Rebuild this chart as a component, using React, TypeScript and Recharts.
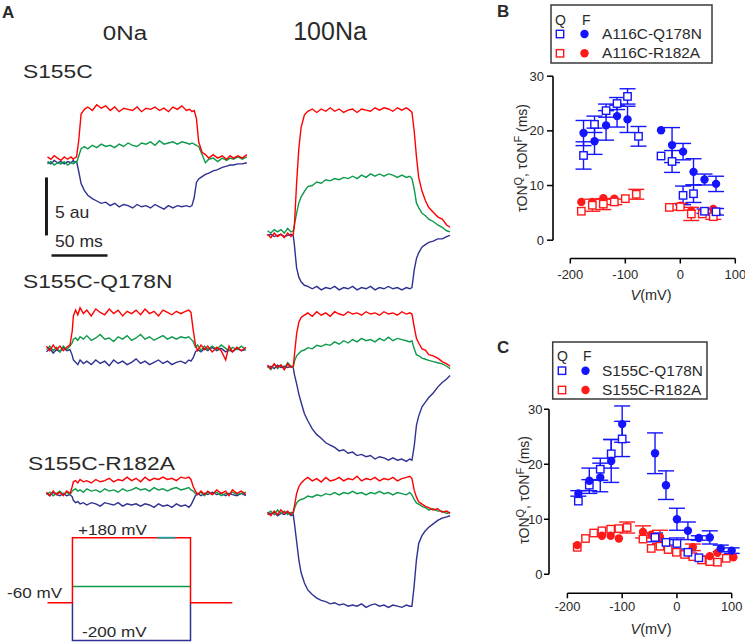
import React from 'react';
import { LineChart, Line, XAxis, YAxis, ScatterChart, Scatter, ErrorBar, ReferenceLine } from 'recharts';

const FONT = '"Liberation Sans", Arial, Helvetica, sans-serif';

// ---------- Panel A: fluorescence traces (time in ms, signal in au relative to baseline) ----------
const TIME_MS = [0, 3, 6, 9, 12, 15, 18, 21, 23, 24, 26, 28, 30, 33, 36, 40, 44, 48, 52, 56, 60, 64, 68, 72, 76, 80, 84, 88, 92, 96, 100, 104, 108, 112, 116, 120, 124, 127, 129, 131, 133, 135, 138, 141, 144, 148, 152, 156, 160, 163, 166, 170, 174, 178];

const S155C_0NA_RED = [0.3, 0.1, 0.4, 0.2, 0.0, 0.3, 0.1, 0.3, 0.1, 0.2, 0.3, 1.8, 4.0, 4.4, 4.6, 4.3, 4.8, 4.5, 4.7, 4.3, 4.6, 4.2, 4.5, 4.4, 4.3, 4.6, 4.2, 4.5, 4.4, 4.6, 4.3, 4.5, 4.2, 4.6, 4.4, 4.7, 4.3, 4.4, 4.2, 4.3, 3.6, 1.6, 0.7, 0.5, 0.2, 0.5, 0.2, 0.4, 0.1, 0.4, 0.2, 0.4, 0.2, 0.5];
const S155C_0NA_GREEN = [-0.3, -0.1, -0.4, -0.2, -0.3, -0.1, -0.4, -0.2, -0.3, -0.1, -0.2, 0.4, 1.0, 1.2, 1.0, 1.3, 1.1, 1.4, 1.2, 1.3, 1.1, 1.4, 1.2, 1.5, 1.3, 1.2, 1.5, 1.4, 1.6, 1.3, 1.7, 1.4, 1.5, 1.6, 1.4, 1.6, 1.5, 1.4, 1.5, 1.4, 1.3, 1.2, 0.5, -0.2, 0.1, 0.2, -0.1, 0.2, 0.0, 0.2, 0.1, 0.3, 0.1, 0.3];
const S155C_0NA_BLUE = [-0.1, -0.3, 0.0, -0.2, -0.1, -0.3, -0.1, -0.2, 0.0, -0.2, -0.1, -1.0, -2.0, -2.6, -3.0, -3.3, -3.5, -3.7, -3.6, -3.9, -3.7, -4.0, -3.8, -3.9, -4.1, -3.8, -4.0, -3.9, -4.1, -3.8, -4.0, -4.2, -3.9, -4.1, -3.9, -4.0, -3.9, -4.0, -3.9, -3.2, -1.9, -1.6, -1.4, -1.2, -1.1, -0.9, -0.8, -0.6, -0.5, -0.4, -0.4, -0.3, -0.3, -0.2];

const S155C_100NA_RED = [0.1, -0.2, 0.2, -0.1, 0.1, -0.2, 0.2, -0.1, 0.1, 0.8, 4.5, 7.5, 9.3, 10.4, 10.7, 10.9, 10.6, 10.9, 10.7, 11.0, 10.7, 10.9, 10.6, 10.8, 10.9, 10.6, 10.9, 10.8, 10.7, 11.0, 10.8, 11.0, 10.9, 10.7, 11.0, 10.8, 11.0, 10.8, 10.6, 9.0, 6.8, 5.0, 3.8, 3.0, 2.4, 2.0, 1.6, 1.4, 0.9, 0.7];
const S155C_100NA_GREEN = [0.4, 0.2, 0.5, 0.3, 0.5, 0.2, 0.6, 0.3, 0.4, 0.9, 1.9, 2.8, 3.3, 3.8, 4.2, 4.3, 4.6, 4.5, 4.8, 4.7, 4.9, 4.8, 5.0, 4.9, 5.1, 4.9, 5.2, 5.0, 5.3, 5.1, 5.3, 5.1, 5.3, 5.2, 5.0, 5.2, 5.0, 5.1, 4.9, 4.0, 2.8, 2.4, 1.9, 1.7, 1.4, 1.2, 0.9, 0.7, 0.4, 0.3];
const S155C_100NA_BLUE = [0.0, 0.1, -0.1, 0.0, 0.1, -0.1, 0.0, 0.1, 0.0, -0.8, -2.8, -3.6, -4.0, -4.3, -4.4, -4.6, -4.4, -4.7, -4.5, -4.6, -4.4, -4.7, -4.5, -4.6, -4.4, -4.7, -4.5, -4.6, -4.4, -4.7, -4.5, -4.6, -4.4, -4.6, -4.5, -4.7, -4.5, -4.6, -4.5, -3.0, -2.0, -1.5, -1.0, -0.8, -0.6, -0.5, -0.3, -0.3, -0.1, 0.0];

const Q178N_0NA_RED = [0.2, -0.2, 0.3, -0.1, 0.2, -0.2, 0.1, 0.3, 1.5, 2.8, 3.3, 2.9, 3.5, 3.0, 3.3, 2.8, 3.4, 3.1, 2.9, 3.4, 3.0, 3.3, 2.8, 3.2, 3.0, 3.3, 2.9, 3.4, 3.0, 3.2, 2.8, 3.3, 3.1, 2.9, 3.2, 3.0, 3.2, 3.3, 3.1, 1.6, 0.3, -0.2, 0.3, -0.1, 0.2, -0.3, 0.1, -0.2, -1.0, 0.2, -0.3, 0.1, -0.2, 0.1];
const Q178N_0NA_GREEN = [-0.1, 0.2, -0.2, 0.1, -0.3, 0.2, -0.1, 0.2, 0.5, 0.8, 0.9, 0.7, 1.0, 0.8, 1.1, 0.7, 0.9, 1.2, 0.8, 0.9, 0.6, 1.0, 0.8, 1.1, 0.7, 0.9, 1.2, 0.8, 1.0, 0.7, 0.9, 1.1, 0.8, 1.0, 0.8, 1.0, 0.9, 1.0, 0.8, 0.6, 0.1, 0.3, -0.2, 0.2, -0.1, 0.2, -0.1, 0.3, 0.0, -0.2, 0.1, -0.1, 0.2, -0.1];
const Q178N_0NA_BLUE = [-0.3, 0.0, -0.4, -0.1, -0.3, 0.1, -0.2, -0.1, -0.6, -1.0, -1.2, -1.4, -1.0, -1.3, -1.1, -1.4, -1.0, -1.3, -1.1, -1.5, -1.0, -1.3, -1.1, -1.4, -1.2, -0.9, -1.3, -1.1, -1.4, -1.2, -1.0, -1.3, -1.1, -1.4, -1.2, -1.1, -1.3, -1.0, -1.1, -0.8, -0.3, -0.1, -0.3, 0.0, -0.2, 0.1, -0.2, 0.0, -0.3, -0.1, -0.3, 0.0, -0.2, -0.1];

const Q178N_100NA_RED = [0.2, -0.1, 0.3, 0.0, 0.2, -0.2, 0.3, 0.0, 0.1, 1.0, 2.9, 3.9, 4.3, 4.5, 4.7, 4.4, 4.8, 4.5, 4.7, 4.4, 4.8, 4.6, 4.5, 4.8, 4.6, 4.7, 4.5, 4.8, 4.6, 4.7, 4.5, 4.8, 4.6, 4.7, 4.5, 4.8, 4.6, 4.7, 4.6, 3.5, 2.5, 2.1, 1.6, 1.5, 1.1, 1.0, 0.8, 0.5, 0.3, 0.1];
const Q178N_100NA_GREEN = [0.1, -0.2, 0.3, -0.1, 0.2, -0.1, 0.4, 0.1, 0.0, 0.5, 1.0, 1.2, 1.4, 1.5, 1.7, 1.6, 1.9, 1.8, 2.0, 1.9, 2.2, 2.0, 2.3, 2.1, 2.4, 2.2, 2.5, 2.3, 2.4, 2.2, 2.5, 2.3, 2.6, 2.3, 2.5, 2.4, 2.3, 2.2, 2.3, 1.6, 1.1, 1.0, 0.8, 0.7, 0.6, 0.5, 0.4, 0.3, 0.1, -0.1];
const Q178N_100NA_BLUE = [0.0, 0.1, -0.1, 0.2, 0.0, 0.1, 0.0, 0.1, 0.0, -0.6, -1.4, -2.3, -3.0, -4.0, -4.6, -5.3, -5.8, -6.1, -6.5, -6.7, -6.9, -7.2, -7.1, -7.4, -7.3, -7.6, -7.5, -7.7, -7.6, -7.9, -7.7, -7.8, -8.0, -7.8, -8.0, -7.9, -8.1, -7.9, -8.0, -6.8, -5.0, -4.2, -3.4, -3.0, -2.6, -2.2, -1.7, -1.3, -1.0, -0.7];

const R182A_0NA_RED = [0.1, -0.2, 0.2, -0.1, 0.1, -0.2, 0.2, 0.0, 0.6, 1.0, 1.1, 0.9, 1.2, 1.0, 1.1, 0.9, 1.2, 1.0, 1.1, 1.3, 1.0, 1.2, 1.1, 1.4, 1.1, 1.3, 1.0, 1.4, 1.1, 1.3, 1.2, 1.4, 1.2, 1.3, 1.1, 1.4, 1.3, 1.4, 1.2, 0.6, 0.2, -0.1, 0.2, -0.1, 0.2, -0.1, 0.3, 0.0, 0.2, -0.2, 0.3, 0.0, 0.2, -0.1];
const R182A_0NA_GREEN = [-0.1, 0.1, -0.2, 0.0, 0.2, -0.1, 0.1, -0.1, 0.2, 0.3, 0.4, 0.2, 0.3, 0.1, 0.4, 0.2, 0.3, 0.1, 0.4, 0.2, 0.3, 0.1, 0.4, 0.2, 0.3, 0.5, 0.3, 0.4, 0.2, 0.5, 0.3, 0.4, 0.2, 0.4, 0.5, 0.3, 0.4, 0.5, 0.3, 0.2, 0.0, -0.1, 0.1, -0.2, 0.1, -0.1, 0.1, -0.2, 0.0, -0.1, 0.1, -0.1, 0.0, 0.1];
const R182A_0NA_BLUE = [0.0, -0.2, 0.1, -0.1, -0.2, 0.0, -0.2, -0.1, -0.3, -0.6, -0.8, -0.7, -0.9, -0.8, -1.0, -0.8, -0.9, -1.1, -0.8, -0.9, -1.0, -0.8, -1.1, -0.9, -1.0, -0.9, -1.1, -0.9, -1.0, -1.2, -0.9, -1.1, -1.0, -1.2, -0.9, -1.1, -1.0, -1.2, -1.0, -0.6, -0.2, 0.0, -0.2, 0.0, -0.1, 0.1, -0.1, 0.0, -0.2, 0.0, -0.1, -0.2, 0.0, -0.2];

const R182A_100NA_RED = [0.1, -0.2, 0.2, -0.1, 0.3, 0.0, 0.2, -0.1, 0.1, 0.6, 1.7, 2.3, 2.6, 2.9, 3.1, 2.8, 3.0, 2.7, 3.1, 2.8, 2.9, 3.1, 2.8, 3.0, 2.9, 3.2, 2.8, 3.0, 2.9, 3.1, 2.8, 3.0, 2.9, 3.1, 2.8, 3.0, 3.1, 3.2, 3.0, 2.0, 1.4, 1.0, 0.8, 0.6, 0.5, 0.3, 0.4, 0.1, 0.2, 0.0];
const R182A_100NA_GREEN = [0.0, 0.2, -0.1, 0.3, 0.0, 0.2, -0.1, 0.1, 0.0, 0.4, 0.9, 1.1, 1.2, 1.3, 1.5, 1.4, 1.6, 1.5, 1.7, 1.6, 1.8, 1.6, 1.8, 1.7, 1.9, 1.7, 1.8, 1.6, 1.8, 1.7, 1.9, 1.7, 1.8, 1.6, 1.8, 1.7, 1.6, 1.8, 1.6, 1.2, 0.9, 0.8, 0.6, 0.5, 0.3, 0.4, 0.2, 0.2, 0.0, 0.1];
const R182A_100NA_BLUE = [-0.1, 0.0, 0.1, -0.2, 0.0, -0.1, 0.1, -0.2, -0.1, -0.8, -2.4, -4.0, -5.1, -6.0, -6.6, -7.0, -7.3, -7.5, -7.6, -7.8, -7.7, -7.9, -7.8, -8.0, -7.9, -8.0, -7.8, -8.1, -7.9, -7.8, -8.0, -7.9, -8.1, -7.9, -8.0, -8.1, -7.9, -8.0, -8.0, -6.2, -4.0, -2.6, -1.9, -1.5, -1.2, -0.9, -0.6, -0.4, -0.3, -0.2];

// Voltage protocol (ms, mV)
const PROTO_RED_T = [0, 22.3, 22.3, 127.7, 127.7, 165];
const PROTO_RED_MV = [-60, -60, 180, 180, -60, -60];
const PROTO_GREEN_T = [22.3, 127.7];
const PROTO_GREEN_MV = [0, 0];
const PROTO_BLUE_T = [22.3, 22.3, 127.7, 127.7];
const PROTO_BLUE_MV = [-60, -200, -200, -60];
const PROTO_CYAN_T = [98, 114];
const PROTO_CYAN_MV = [180, 180];

// ---------- Panel B: A116C mutants ----------
const B_Q178N_Q_MV = [-176, -156, -135, -115, -96, -76, -35, -15, 5, 24, 44, 65];
const B_Q178N_Q_TAU = [15.5, 21.2, 23.7, 25.0, 26.3, 19.0, 15.4, 14.4, 8.2, 8.5, 5.3, 5.2];
const B_Q178N_Q_ERR = [2.5, 1.5, 1.2, 1.1, 1.4, 1.8, 0, 2.0, 1.7, 1.6, 0.4, 0.6];
const B_Q178N_F_MV = [-176, -156, -135, -115, -96, -35, -15, 5, 24, 44, 65];
const B_Q178N_F_TAU = [19.6, 18.1, 21.0, 22.7, 22.1, 20.1, 17.4, 16.2, 12.5, 11.1, 10.3];
const B_Q178N_F_ERR = [2.3, 2.4, 2.7, 2.0, 2.4, 0, 3.2, 1.5, 2.4, 1.0, 1.4];
const B_R182A_Q_MV = [-180, -160, -140, -120, -100, -80, -20, 0, 20, 40, 60];
const B_R182A_Q_TAU = [5.3, 6.4, 6.6, 7.0, 7.6, 8.4, 6.0, 6.1, 4.8, 4.8, 4.3];
const B_R182A_Q_ERR = [0, 1.1, 1.0, 0.5, 0, 0.9, 0, 0.6, 1.2, 0, 0.5];
const B_R182A_F_MV = [-180, -160, -140, -120, 0, 20, 60];
const B_R182A_F_TAU = [7.0, 7.0, 7.7, 7.6, 6.3, 5.4, 5.7];
const B_R182A_F_ERR = [0, 0, 0, 0, 0, 0, 0];

// ---------- Panel C: S155C mutants ----------
const C_Q178N_Q_MV = [-180, -160, -140, -120, -100, -40, -20, 0, 20, 40];
const C_Q178N_Q_TAU = [13.3, 16.2, 19.1, 21.9, 24.6, 6.7, 5.8, 5.6, 4.0, 3.0];
const C_Q178N_Q_ERR = [0, 1.0, 2.0, 2.6, 3.2, 0.8, 0.5, 1.0, 0.3, 0.3];
const C_Q178N_F_MV = [-180, -160, -140, -120, -100, -40, -20, 0, 20, 40, 60, 80, 100];
const C_Q178N_F_TAU = [14.7, 17.0, 17.6, 20.6, 27.3, 22.0, 16.2, 10.0, 7.9, 6.6, 6.7, 4.7, 4.3];
const C_Q178N_F_ERR = [0.5, 2.3, 2.6, 3.9, 3.3, 3.7, 2.6, 2.0, 1.6, 0.4, 1.2, 0.6, 0.5];
const C_R182A_Q_MV = [-182, -167, -152, -137, -121, -106, -91, -62, -47, -31, -16, -1, 14, 29, 45, 60, 74, 90];
const C_R182A_Q_TAU = [4.9, 6.5, 7.5, 7.9, 8.2, 8.3, 8.5, 6.4, 4.7, 5.1, 4.5, 4.0, 3.6, 3.2, 2.6, 2.3, 2.2, 2.9];
const C_R182A_Q_ERR = [0, 0, 0, 0, 0, 0, 1.0, 0, 0, 0, 0, 0, 0, 0, 0, 0, 0, 0];
const C_R182A_F_MV = [-182, -137, -121, -106, -62, -47, -31, 29, 60, 74, 103];
const C_R182A_F_TAU = [5.3, 7.0, 7.0, 6.5, 7.7, 7.2, 6.8, 4.9, 3.3, 3.9, 3.1];
const C_R182A_F_ERR = [0, 0, 0, 0, 1.1, 0, 1.2, 0.6, 0, 0, 0];

const TAU_TICKS = [0, 10, 20, 30];
const V_TICKS = [-200, -100, 0, 100];

// ---------- styles ----------
const RED = '#ff0000';
const GREEN = '#0d9a4b';
const NAVY = '#2e3192';
const BLUE = '#1414ff';
const PRED = '#ff1a1a';
const TEXT = '#2a2a2a';

const PX_MS = 1.12;
const PX_AU = 11.6;
const T_MIN = -4;
const T_MAX = 180;
const AU_MIN = -9;
const AU_MAX = 11.5;

function traceRows(r: number[], g: number[], b: number[]) {
  return r.map((v, i) => ({ t: TIME_MS[i], r: v, g: g[i], b: b[i] }));
}

function TraceChart({ x0, baseline, rows, children }: any) {
  const width = (T_MAX - T_MIN) * PX_MS;
  const height = (AU_MAX - AU_MIN) * PX_AU;
  const common = { dot: false, activeDot: false, isAnimationActive: false, type: 'linear' as const, strokeWidth: 1.4 };
  return (
    <div style={{ position: 'absolute', left: x0 + T_MIN * PX_MS, top: baseline - AU_MAX * PX_AU, width, height }}>
      <LineChart width={width} height={height} data={rows} margin={{ top: 0, right: 0, bottom: 0, left: 0 }}>
        <XAxis type="number" dataKey="t" domain={[T_MIN, T_MAX]} hide />
        <YAxis type="number" domain={[AU_MIN, AU_MAX]} hide />
        <Line dataKey="b" stroke={NAVY} {...common} />
        <Line dataKey="g" stroke={GREEN} {...common} />
        <Line dataKey="r" stroke={RED} {...common} />
        {children}
      </LineChart>
    </div>
  );
}

function ProtocolChart() {
  const PX_MV = 65 / 240;
  const MV_MIN = -215;
  const MV_MAX = 190;
  const width = (T_MAX - T_MIN) * PX_MS;
  const height = (MV_MAX - MV_MIN) * PX_MV;
  const x0 = 47;
  const y180 = 538;
  const mk = (ts: number[], mv: number[]) => ts.map((t, i) => ({ t, mv: mv[i] }));
  const common = { dot: false, activeDot: false, isAnimationActive: false, type: 'linear' as const, strokeWidth: 1.5, dataKey: 'mv' };
  return (
    <div style={{ position: 'absolute', left: x0 + T_MIN * PX_MS, top: y180 - (MV_MAX - 180) * PX_MV, width, height }}>
      <LineChart width={width} height={height} margin={{ top: 0, right: 0, bottom: 0, left: 0 }}>
        <XAxis type="number" dataKey="t" domain={[T_MIN, T_MAX]} hide />
        <YAxis type="number" dataKey="mv" domain={[MV_MIN, MV_MAX]} hide />
        <Line data={mk(PROTO_GREEN_T, PROTO_GREEN_MV)} stroke={GREEN} {...common} />
        <Line data={mk(PROTO_BLUE_T, PROTO_BLUE_MV)} stroke={NAVY} {...common} />
        <Line data={mk(PROTO_RED_T, PROTO_RED_MV)} stroke={RED} {...common} />
        <Line data={mk(PROTO_CYAN_T, PROTO_CYAN_MV)} stroke="#1a9ea0" {...common} strokeWidth={1.8} />
      </LineChart>
    </div>
  );
}

function pts(mv: number[], tau: number[], err: number[]) {
  return mv.map((x, i) => ({ x, y: tau[i], e: err[i] }));
}

const squareShape = (color: string) => (p: any) => (
  <rect x={p.cx - 3.7} y={p.cy - 3.7} width={7.4} height={7.4} fill="#fff" stroke={color} strokeWidth={1.4} />
);
const circleShape = (color: string) => (p: any) => <circle cx={p.cx} cy={p.cy} r={4.2} fill={color} />;

function TauChart({ left, top, width, height, xMin, yMin, series, xTickMargin, yTickMargin, yTickSize }: any) {
  const X_MAX = 110;
  const Y_MAX = 31.5;
  const RIGHT_PAD = 14;
  return (
    <div style={{ position: 'absolute', left, top, width: width + RIGHT_PAD, height }}>
      <ScatterChart width={width + RIGHT_PAD} height={height} margin={{ top: 0, right: RIGHT_PAD, bottom: 0, left: 0 }}>
        <XAxis
          type="number"
          dataKey="x"
          domain={[xMin, X_MAX]}
          ticks={V_TICKS}
          axisLine={false}
          tickLine={{ stroke: '#000', strokeWidth: 1.5 }}
          tickSize={5}
          tickMargin={xTickMargin}
          height={30}
          tick={{ fontSize: 13, fill: TEXT, fontFamily: FONT }}
        />
        <YAxis
          type="number"
          dataKey="y"
          domain={[yMin, Y_MAX]}
          ticks={TAU_TICKS}
          axisLine={false}
          tickLine={{ stroke: '#000', strokeWidth: 1.5 }}
          tickSize={yTickSize}
          tickMargin={yTickMargin}
          width={40}
          tick={{ fontSize: 13, fill: TEXT, fontFamily: FONT }}
        />
        <ReferenceLine segment={[{ x: xMin, y: 0 }, { x: xMin, y: 30 }]} stroke="#000" strokeWidth={1.6} ifOverflow="visible" />
        <ReferenceLine segment={[{ x: -200, y: yMin }, { x: 100, y: yMin }]} stroke="#000" strokeWidth={1.6} ifOverflow="visible" />
        {series.map((s: any, i: number) => (
          <Scatter
            key={i}
            data={s.data}
            isAnimationActive={false}
            shape={s.kind === 'square' ? squareShape(s.color) : circleShape(s.color)}
          >
            <ErrorBar dataKey="e" direction="y" width={8} stroke={s.color} strokeWidth={1.4} />
          </Scatter>
        ))}
      </ScatterChart>
    </div>
  );
}

function T({ x, y, size, sx = 1, anchor = 'start', bold = false, children, italic = false }: any) {
  return (
    <text
      transform={`translate(${x},${y}) scale(${sx},1)`}
      textAnchor={anchor}
      fontSize={size}
      fontWeight={bold ? 'bold' : 'normal'}
      fontStyle={italic ? 'italic' : 'normal'}
      fontFamily={FONT}
      fill={TEXT}
    >
      {children}
    </text>
  );
}

function LegendBox({ x, y, w, h, qx, fx, headY, rows }: any) {
  return (
    <g>
      <rect x={x} y={y} width={w} height={h} fill="none" stroke="#3a3a3a" strokeWidth={1.5} />
      <T x={qx} y={headY} size={14}>Q</T>
      <T x={fx} y={headY} size={14}>F</T>
      {rows.map((r: any, i: number) => (
        <g key={i}>
          <rect x={qx + 5 - 3.7} y={r.cy - 3.7} width={7.4} height={7.4} fill="#fff" stroke={r.color} strokeWidth={1.4} />
          <circle cx={fx + 2.5} cy={r.cy} r={4.2} fill={r.color} />
          <T x={602} y={r.cy + 5} size={14} sx={1.1}>{r.label}</T>
        </g>
      ))}
    </g>
  );
}

function YLabel({ x, y }: any) {
  return (
    <text transform={`translate(${x},${y}) rotate(-90)`} textAnchor="middle" fontSize={14} fontFamily={FONT} fill={TEXT}>
      <tspan>τON</tspan>
      <tspan dy={-5} fontSize={11}>Q</tspan>
      <tspan dy={5}>, τON</tspan>
      <tspan dy={-5} fontSize={11}>F</tspan>
      <tspan dy={5}> (ms)</tspan>
    </text>
  );
}

function VLabel({ x, y }: any) {
  return (
    <text x={x} y={y} textAnchor="middle" fontSize={14.5} fontFamily={FONT} fill={TEXT}>
      <tspan fontStyle="italic">V</tspan>
      <tspan>(mV)</tspan>
    </text>
  );
}

export default function App() {
  const seriesB = [
    { kind: 'circle', color: PRED, data: pts(B_R182A_F_MV, B_R182A_F_TAU, B_R182A_F_ERR) },
    { kind: 'square', color: PRED, data: pts(B_R182A_Q_MV, B_R182A_Q_TAU, B_R182A_Q_ERR) },
    { kind: 'circle', color: BLUE, data: pts(B_Q178N_F_MV, B_Q178N_F_TAU, B_Q178N_F_ERR) },
    { kind: 'square', color: BLUE, data: pts(B_Q178N_Q_MV, B_Q178N_Q_TAU, B_Q178N_Q_ERR) },
  ];
  const seriesC = [
    { kind: 'square', color: PRED, data: pts(C_R182A_Q_MV, C_R182A_Q_TAU, C_R182A_Q_ERR) },
    { kind: 'circle', color: PRED, data: pts(C_R182A_F_MV, C_R182A_F_TAU, C_R182A_F_ERR) },
    { kind: 'square', color: BLUE, data: pts(C_Q178N_Q_MV, C_Q178N_Q_TAU, C_Q178N_Q_ERR) },
    { kind: 'circle', color: BLUE, data: pts(C_Q178N_F_MV, C_Q178N_F_TAU, C_Q178N_F_ERR) },
  ];

  return (
    <div style={{ position: 'absolute', left: 0, top: 0, width: 745, height: 643, background: '#fff', overflow: 'hidden', fontFamily: FONT }}>
      <TraceChart x0={47} baseline={160} rows={traceRows(S155C_0NA_RED, S155C_0NA_GREEN, S155C_0NA_BLUE)}>
        <ReferenceLine segment={[{ x: -0.9, y: -1.47 }, { x: -0.9, y: -6.47 }]} stroke="#1a1a1a" strokeWidth={3} ifOverflow="visible" />
        <ReferenceLine segment={[{ x: 3.6, y: -8.19 }, { x: 53.6, y: -8.19 }]} stroke="#1a1a1a" strokeWidth={2.5} ifOverflow="visible" />
      </TraceChart>
      <TraceChart x0={267} baseline={235} rows={traceRows(S155C_100NA_RED, S155C_100NA_GREEN, S155C_100NA_BLUE)} />
      <TraceChart x0={46} baseline={348} rows={traceRows(Q178N_0NA_RED, Q178N_0NA_GREEN, Q178N_0NA_BLUE)} />
      <TraceChart x0={267} baseline={367} rows={traceRows(Q178N_100NA_RED, Q178N_100NA_GREEN, Q178N_100NA_BLUE)} />
      <TraceChart x0={46} baseline={493} rows={traceRows(R182A_0NA_RED, R182A_0NA_GREEN, R182A_0NA_BLUE)} />
      <TraceChart x0={267} baseline={513} rows={traceRows(R182A_100NA_RED, R182A_100NA_GREEN, R182A_100NA_BLUE)} />
      <ProtocolChart />

      <TauChart left={512.7} top={67.8} width={227.8} height={220.5} xMin={-231.5} yMin={-3.35} series={seriesB} xTickMargin={6} yTickMargin={3} yTickSize={6} />
      <TauChart left={509.3} top={401.05} width={228.2} height={222.25} xMin={-233.6} yMin={-3.45} series={seriesC} xTickMargin={3.5} yTickMargin={1.5} yTickSize={5} />

      <svg width={745} height={643} style={{ position: 'absolute', left: 0, top: 0, pointerEvents: 'none' }}>
        <T x={2} y={17.5} size={17} bold>A</T>
        <T x={125} y={40} size={21} sx={1.15} anchor="middle">0Na</T>
        <T x={330} y={40} size={25} anchor="middle">100Na</T>
        <T x={23} y={78} size={19} sx={1.2}>S155C</T>
        <T x={55} y={218} size={16} sx={1.1}>5 au</T>
        <T x={55} y={247} size={16} sx={1.1}>50 ms</T>
        <T x={23} y={288} size={19} sx={1.2}>S155C-Q178N</T>
        <T x={28} y={470} size={19} sx={1.2}>S155C-R182A</T>
        <T x={78} y={535} size={15} sx={1.14}>+180 mV</T>
        <T x={7} y={598} size={15} sx={1.14}>-60 mV</T>
        <T x={82} y={637} size={15} sx={1.14}>-200 mV</T>

        <T x={497} y={16.7} size={17} bold>B</T>
        <T x={497} y={353.3} size={17} bold>C</T>

        <LegendBox
          x={551} y={5} w={161} h={58} qx={555} fx={582} headY={25}
          rows={[
            { cy: 34, color: BLUE, label: 'A116C-Q178N' },
            { cy: 53.3, color: PRED, label: 'A116C-R182A' },
          ]}
        />
        <LegendBox
          x={552.7} y={342} w={154.3} h={57} qx={557} fx={583} headY={360.5}
          rows={[
            { cy: 370.7, color: BLUE, label: 'S155C-Q178N' },
            { cy: 390, color: PRED, label: 'S155C-R182A' },
          ]}
        />
        <YLabel x={527} y={158} />
        <YLabel x={529} y={490} />
        <VLabel x={651} y={300} />
        <VLabel x={651} y={634} />
      </svg>
    </div>
  );
}
